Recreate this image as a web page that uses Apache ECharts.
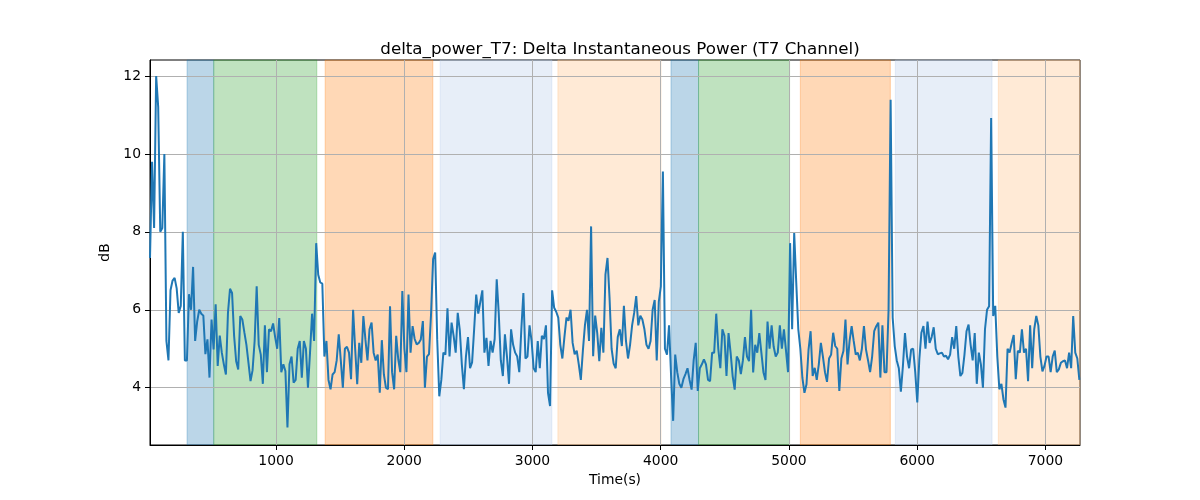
<!DOCTYPE html>
<html>
<head>
<meta charset="utf-8">
<title>delta_power_T7</title>
<script src="https://cdn.jsdelivr.net/npm/echarts@6/dist/echarts.min.js"></script>
<style>
html, body { margin: 0; padding: 0; background: #fff; }
#chart { width: 1200px; height: 500px; }
</style>
</head>
<body>
<div id="chart"></div>
<script>
// sampling of the T7 channel (seconds)
var startTime = 17;
var sampleStep = 16;

// delta instantaneous power (dB), one value per sample
var deltaPower = [
  7.33, 9.8, 8.1, 12.0, 11.2, 8.0, 8.1, 10.0, 5.2, 4.7,
  6.5, 6.75, 6.82, 6.55, 5.92, 6.1, 8.0, 4.7, 4.7, 6.4,
  6.0, 7.1, 5.2, 5.7, 6.0, 5.9, 5.85, 4.86, 5.24, 4.26,
  5.75, 4.98, 6.14, 4.56, 5.34, 4.9, 4.6, 4.34, 5.92, 6.54,
  6.43, 5.33, 4.68, 4.47,
  5.84, 5.75, 5.42, 5.1, 4.64, 4.17, 4.45, 5.2, 6.6, 5.1,
  4.85, 4.1, 5.6, 4.4, 5.5, 5.45, 5.65, 5.3, 5.0, 5.79,
  4.4, 4.6, 4.43, 2.98, 4.6, 4.8, 4.13, 4.2, 5.0, 5.2,
  4.26, 5.2, 5.0, 4.0, 4.9, 5.9, 5.2, 7.71, 6.9, 6.7,
  6.67, 4.8, 5.2, 4.2, 3.96,
  4.34, 4.4, 4.7, 5.37, 4.7, 4.0, 5.0, 5.05, 4.9, 4.22,
  6.0, 5.0, 4.09, 5.15, 4.64, 5.84, 5.24, 4.7, 5.5, 5.67,
  4.9, 4.7, 4.85, 3.87, 5.22, 4.34, 4.0, 3.96, 6.09, 4.4,
  3.96, 5.33, 4.73, 4.4, 6.48, 5.0, 4.4, 6.39, 4.9, 5.58,
  5.25, 5.11, 5.15, 5.24, 5.71,
  4.0, 4.8, 4.86, 5.9, 7.3, 7.47, 5.24, 3.78, 4.2, 4.9,
  4.85, 6.04, 4.8, 5.67, 5.33, 4.9, 5.92, 5.48, 4.6, 3.96,
  4.8, 5.3, 4.5, 4.65, 5.5, 6.39, 5.9, 6.2, 6.5, 4.9,
  5.28, 4.56, 5.2, 4.9, 5.25, 6.78, 5.9, 4.7, 4.3, 5.37,
  4.8, 4.1, 5.5, 5.1, 4.9,
  4.8, 4.4, 5.5, 6.43, 4.75, 4.8, 5.6, 5.2, 4.5, 4.4,
  5.2, 4.5, 5.33, 5.25, 5.6, 3.87, 3.53, 6.5, 6.05, 5.95,
  5.8, 5.1, 4.75, 5.3, 5.8, 5.72, 6.0, 5.15, 4.86, 4.95,
  4.6, 4.2, 4.95, 5.6, 6.0, 5.2, 8.14, 4.81, 5.85, 5.4,
  4.68, 5.54, 4.9, 6.9, 7.33,
  6.3, 5.0, 4.62, 4.5, 5.3, 5.5, 5.07, 6.1, 5.2, 4.75,
  5.1, 5.6, 5.92, 6.35, 5.6, 5.85, 5.75, 5.5, 5.1, 5.0,
  5.2, 6.0, 6.25, 4.7, 6.2, 6.6, 9.55, 5.0, 4.85, 5.6,
  4.3, 3.15, 4.85, 4.4, 4.1, 4.0, 4.22, 4.35, 4.5, 4.2,
  3.95, 4.7, 5.15, 3.92, 4.5,
  4.6, 4.73, 4.6, 4.2, 4.17, 4.9, 4.9, 5.9, 5.0, 4.5,
  5.5, 5.33, 4.3, 5.4, 4.9, 4.3, 3.95, 4.8, 4.7, 4.35,
  4.7, 5.3, 4.8, 4.68, 6.0, 4.39, 5.1, 4.9, 5.4, 4.9,
  4.4, 4.2, 5.7, 5.0, 5.6, 5.05, 4.8, 4.9, 5.6, 5.0,
  5.5, 4.95, 4.4, 7.71, 5.5,
  7.97, 6.7, 5.5, 5.0, 4.25, 3.87, 4.09, 4.98, 5.45, 4.3,
  4.51, 4.2, 4.6, 5.15, 4.8, 4.4, 4.15, 4.75, 4.85, 5.41,
  5.07, 5.0, 3.92, 4.75, 4.94, 5.75, 4.6, 5.2, 5.58, 5.2,
  4.85, 4.9, 4.7, 5.0, 5.58, 4.98, 4.7, 4.4, 4.8, 5.45,
  5.58, 5.67, 4.26, 5.6, 4.4,
  4.4, 6.0, 11.39, 5.8, 5.07, 4.7, 4.5, 3.9, 4.56, 5.4,
  4.8, 4.5, 4.98, 5.0, 4.4, 3.62, 4.73, 5.41, 5.58, 5.0,
  5.7, 5.15, 5.3, 5.55, 5.0, 4.86, 4.88, 4.9, 4.8, 4.82,
  4.73, 4.85, 5.3, 5.0, 5.58, 4.8, 4.3, 4.38, 4.85, 5.45,
  5.62, 5.1, 4.7, 5.4,
  4.1, 4.9, 4.6, 4.0, 5.5, 6.0, 6.09, 10.92, 5.84, 6.1,
  4.8, 3.96, 4.1, 3.7, 3.49, 5.0, 4.9, 5.14, 5.35, 4.22,
  4.95, 4.9, 5.5, 4.9, 5.0, 4.17, 5.6, 4.5, 5.5, 5.84,
  5.6, 4.8, 4.42, 4.56, 4.8, 4.8, 4.4, 4.8, 4.95, 4.4,
  4.47, 4.64, 4.68, 4.7, 4.5, 4.9, 4.5, 5.84, 4.9, 4.75,
  4.2
];

// shaded stages (seconds)
var bandStart = [306, 514, 1383, 2280, 3198, 4080, 4295, 5089, 5830, 6633];
var bandEnd   = [514, 1318, 2223, 3151, 4002, 4295, 5005, 5791, 6584, 7273];
var bandKind  = ['blue', 'green', 'orange', 'lightblue', 'lightorange',
                 'blue', 'green', 'orange', 'lightblue', 'lightorange'];
var bandColors = {
  blue: 'rgba(31,119,180,0.3)',
  green: 'rgba(44,160,44,0.3)',
  orange: 'rgba(255,127,14,0.3)',
  lightblue: 'rgba(174,199,232,0.3)',
  lightorange: 'rgba(255,187,120,0.3)'
};

var xTicks = [1000, 2000, 3000, 4000, 5000, 6000, 7000];
var yTicks = [4, 6, 8, 10, 12];

var points = deltaPower.map(function (v, i) {
  return [startTime + i * sampleStep, v];
});

var areas = [];
for (var k = 0; k < bandStart.length; k++) {
  var c = bandColors[bandKind[k]];
  areas.push([
    { xAxis: bandStart[k], itemStyle: { color: c, borderColor: c, borderWidth: 1 } },
    { xAxis: bandEnd[k] }
  ]);
}

var font = 'DejaVu Sans';
var myChart = echarts.init(document.getElementById('chart'));
var option = {
  animation: false,
  backgroundColor: '#fff',
  title: {
    text: 'delta_power_T7: Delta Instantaneous Power (T7 Channel)',
    left: 615,
    top: 36,
    textAlign: 'center',
    textStyle: { fontFamily: font, fontSize: 16.7, fontWeight: 'normal', color: '#000' }
  },
  grid: {
    left: 150, right: 120, top: 60, bottom: 55,
    show: true, borderColor: '#000', borderWidth: 1, backgroundColor: 'transparent'
  },
  xAxis: {
    type: 'value',
    min: 17,
    max: 7270,
    z: 3,
    name: 'Time(s)',
    nameLocation: 'middle',
    nameGap: 27,
    nameTextStyle: { fontFamily: font, fontSize: 13.9, color: '#000' },
    axisLine: { show: true, lineStyle: { color: '#000', width: 1 } },
    axisTick: { show: true, length: 5, customValues: xTicks, lineStyle: { color: '#000' } },
    axisLabel: {
      customValues: xTicks, margin: 9, fontFamily: font, fontSize: 13.9, color: '#000',
      formatter: function (v) { return String(v); }
    },
    splitLine: { show: true, lineStyle: { color: '#b0b0b0', width: 1 } }
  },
  yAxis: {
    type: 'value',
    min: 2.53,
    max: 12.41,
    z: 3,
    name: 'dB',
    nameLocation: 'middle',
    nameRotate: 90,
    nameGap: 33,
    nameTextStyle: { fontFamily: font, fontSize: 13.9, color: '#000' },
    axisLine: { show: true, lineStyle: { color: '#000', width: 1 } },
    axisTick: { show: true, length: 5, customValues: yTicks, lineStyle: { color: '#000' } },
    axisLabel: {
      customValues: yTicks, margin: 9, fontFamily: font, fontSize: 13.9, color: '#000',
      formatter: function (v) { return String(v); }
    },
    splitLine: { show: true, lineStyle: { color: '#b0b0b0', width: 1 } }
  },
  series: [
    {
      name: 'stages',
      type: 'line',
      z: 1,
      data: [],
      silent: true,
      markArea: { silent: true, data: areas }
    },
    {
      name: 'delta_power_T7',
      type: 'line',
      z: 5,
      data: points,
      showSymbol: false,
      symbol: 'none',
      lineStyle: { color: '#1f77b4', width: 2 },
      itemStyle: { color: '#1f77b4' }
    }
  ]
};
myChart.setOption(option);
</script>
</body>
</html>
